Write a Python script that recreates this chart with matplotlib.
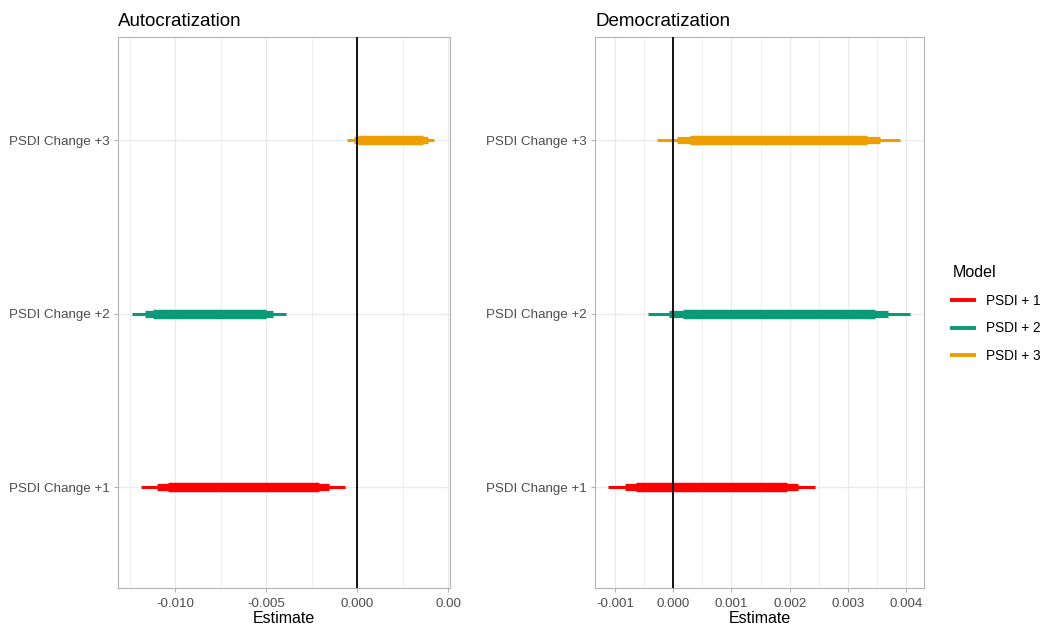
import matplotlib
matplotlib.use("Agg")
import matplotlib.pyplot as plt
from matplotlib.lines import Line2D

plt.rcParams['font.family'] = ['Liberation Sans', 'DejaVu Sans']

# rows (bottom to top)
terms = ["PSDI Change +1", "PSDI Change +2", "PSDI Change +3"]
models = ["PSDI + 1", "PSDI + 2", "PSDI + 3"]
colors = ["#FF0000", "#0B9A78", "#ED9E00"]

# Autocratization intervals: outer, middle, inner
auto_outer_lo = [-0.01192, -0.01238, -0.00055]
auto_outer_hi = [-0.00066, -0.00392, 0.00420]
auto_mid_lo = [-0.01100, -0.01170, -0.00016]
auto_mid_hi = [-0.00158, -0.00462, 0.00390]
auto_in_lo = [-0.01040, -0.01123, 0.00005]
auto_in_hi = [-0.00213, -0.00502, 0.00360]

# Democratization intervals
demo_outer_lo = [-0.00111, -0.00043, -0.00027]
demo_outer_hi = [0.00243, 0.00406, 0.00389]
demo_mid_lo = [-0.00083, -0.00007, 0.00006]
demo_mid_hi = [0.00214, 0.00369, 0.00355]
demo_in_lo = [-0.00064, 0.00016, 0.00029]
demo_in_hi = [0.00195, 0.00346, 0.00333]

grid_col = "#EBEBEB"
border_col = "#B3B3B3"
text_col = "#4D4D4D"


def draw_panel(ax, title, olo, ohi, mlo, mhi, ilo, ihi, xlim, majors, labels, minors):
    ax.set_xlim(*xlim)
    ax.set_ylim(0.418, 3.594)
    ax.set_xticks(majors)
    ax.set_xticklabels(labels)
    ax.set_xticks(minors, minor=True)
    ax.set_yticks([1, 2, 3])
    ax.set_yticklabels(terms)
    ax.grid(True, which='major', color=grid_col, lw=1.0, zorder=0)
    ax.grid(True, which='minor', axis='x', color=grid_col, lw=0.6, zorder=0)
    ax.set_axisbelow(True)
    for s in ax.spines.values():
        s.set_color(border_col)
        s.set_linewidth(0.8)
    ax.tick_params(which='major', colors=border_col, labelcolor=text_col,
                   labelsize=9.6, length=3, width=0.8, pad=3)
    ax.tick_params(axis='x', which='major', pad=4)
    ax.tick_params(which='minor', length=0)
    ax.axvline(0, color='black', lw=1.3, zorder=5)
    for i in range(3):
        y = i + 1
        ax.hlines(y, olo[i], ohi[i], color=colors[i], lw=2.2, zorder=3)
        ax.hlines(y, mlo[i], mhi[i], color=colors[i], lw=5.2, zorder=3)
        ax.hlines(y, ilo[i], ihi[i], color=colors[i], lw=6.8, zorder=3)
    ax.set_xlabel("Estimate", fontsize=11.5, color='black', labelpad=1)
    ax.set_title(title, loc='left', fontsize=13.5, pad=8)


fig = plt.figure(figsize=(10.47, 6.28), dpi=100)
ax1 = fig.add_axes([0.1127, 0.0637, 0.3171, 0.8774])
ax2 = fig.add_axes([0.5683, 0.0637, 0.3142, 0.8774])

draw_panel(ax1, "Autocratization", auto_outer_lo, auto_outer_hi, auto_mid_lo, auto_mid_hi,
           auto_in_lo, auto_in_hi, (-0.01316, 0.0051),
           [-0.010, -0.005, 0.000, 0.005], ["-0.010", "-0.005", "0.000", "0.00"],
           [-0.0125, -0.0075, -0.0025, 0.0025])
draw_panel(ax2, "Democratization", demo_outer_lo, demo_outer_hi, demo_mid_lo, demo_mid_hi,
           demo_in_lo, demo_in_hi, (-0.00134, 0.0043),
           [-0.001, 0.0, 0.001, 0.002, 0.003, 0.004],
           ["-0.001", "0.000", "0.001", "0.002", "0.003", "0.004"],
           [-0.0005, 0.0005, 0.0015, 0.0025, 0.0035])

handles = [Line2D([0], [0], color=c, lw=2.8) for c in colors]
leg = fig.legend(handles, models, title="Model", loc='center left',
                 bbox_to_anchor=(0.898, 0.5), frameon=False, fontsize=9.8,
                 title_fontsize=11.5, handlelength=1.6, labelspacing=1.0,
                 handletextpad=0.9, alignment='left')

fig.savefig("out.png", dpi=100)
